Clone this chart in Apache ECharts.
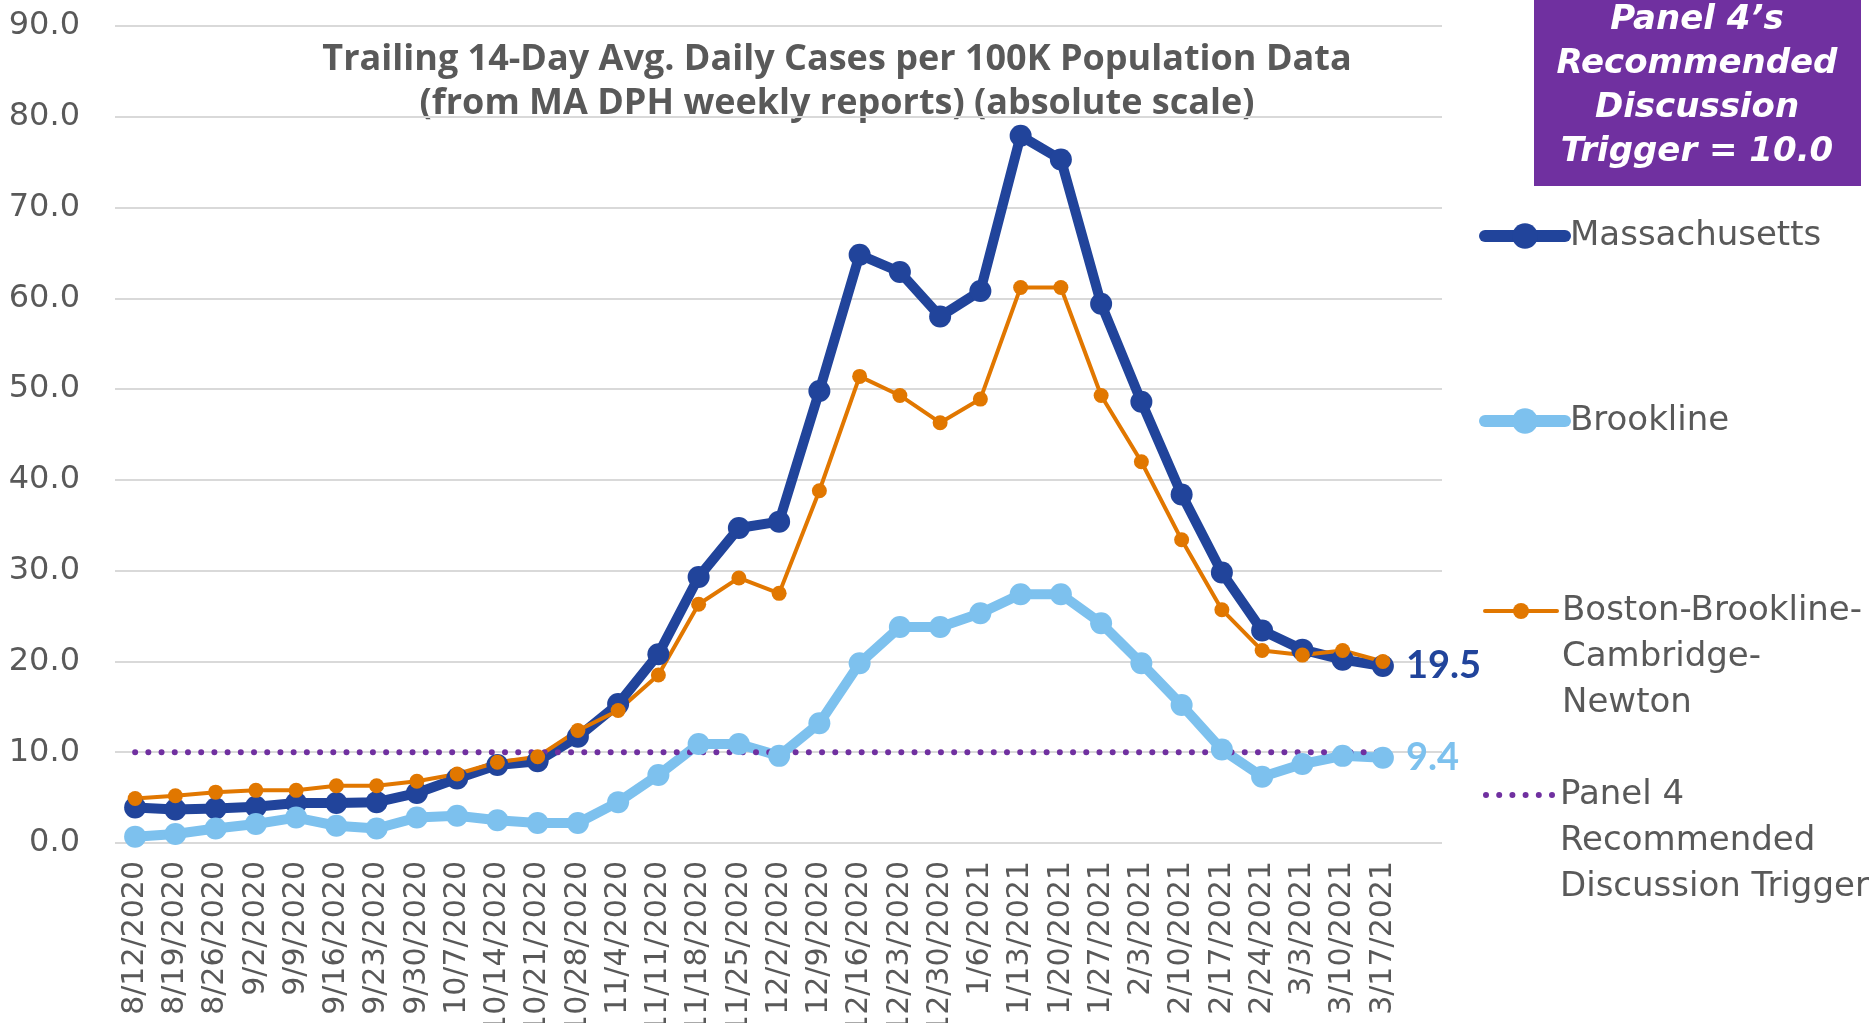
<!DOCTYPE html>
<html>
<head>
<meta charset="utf-8">
<script src="https://cdn.jsdelivr.net/npm/echarts@6/dist/echarts.min.js"></script>
<style>
  html, body { margin: 0; padding: 0; background: #fff; }
  #main { width: 1874px; height: 1023px; }
</style>
</head>
<body>
<div id="main"></div>
<script>
var dates = ['8/12/2020', '8/19/2020', '8/26/2020', '9/2/2020', '9/9/2020', '9/16/2020', '9/23/2020', '9/30/2020',
    '10/7/2020', '10/14/2020', '10/21/2020', '10/28/2020', '11/4/2020', '11/11/2020', '11/18/2020', '11/25/2020',
    '12/2/2020', '12/9/2020', '12/16/2020', '12/23/2020', '12/30/2020', '1/6/2021', '1/13/2021', '1/20/2021',
    '1/27/2021', '2/3/2021', '2/10/2021', '2/17/2021', '2/24/2021', '3/3/2021', '3/10/2021', '3/17/2021'];

var massachusetts = [3.9, 3.7, 3.8, 4.0, 4.4, 4.4, 4.5, 5.5, 7.1, 8.6, 9.0, 11.7, 15.3, 20.8, 29.3, 34.7,
    35.4, 49.8, 64.8, 62.9, 58.0, 60.8, 77.9, 75.3, 59.4, 48.6, 38.4, 29.8, 23.4, 21.3, 20.2, 19.5];
var brookline = [0.7, 1.0, 1.6, 2.1, 2.8, 1.9, 1.6, 2.8, 3.0, 2.5, 2.2, 2.2, 4.5, 7.5, 10.9, 10.9,
    9.6, 13.2, 19.8, 23.8, 23.8, 25.3, 27.4, 27.4, 24.2, 19.8, 15.2, 10.3, 7.3, 8.7, 9.6, 9.4];
var bbcn = [4.9, 5.2, 5.6, 5.8, 5.8, 6.3, 6.3, 6.8, 7.6, 8.9, 9.5, 12.4, 14.6, 18.5, 26.3, 29.2,
    27.5, 38.8, 51.4, 49.3, 46.3, 48.9, 61.2, 61.2, 49.3, 42.0, 33.4, 25.7, 21.2, 20.7, 21.2, 20.0];
var trigger = [10, 10, 10, 10, 10, 10, 10, 10, 10, 10, 10, 10, 10, 10, 10, 10,
    10, 10, 10, 10, 10, 10, 10, 10, 10, 10, 10, 10, 10, 10, 10, 10];

var yTicks = [0, 90, 10];   // min, max, interval

var names = ['Massachusetts', 'Brookline', 'Boston-Brookline-Cambridge-Newton', 'Panel 4 Recommended Discussion Trigger'];
// two blank lines in front so the first text line sits level with the icon
var legendText = {
    'Boston-Brookline-Cambridge-Newton': '\n\nBoston-Brookline-\nCambridge-\nNewton',
    'Panel 4 Recommended Discussion Trigger': '\n\nPanel 4\nRecommended\nDiscussion Trigger'
};

var GRAY = '#595959';
var MA_BLUE = '#21449B';
var LIGHT_BLUE = '#7DC1EE';
var ORANGE = '#E17700';
var PURPLE = '#7030A0';

var myChart = echarts.init(document.getElementById('main'));

// centerY: where the icon should sit; offset: half the height of the item's text block
function legendItem(name, centerY, offset, left, w, h, lineWidth) {
    return {
        data: [name],
        left: left,
        top: centerY - offset,
        itemWidth: w,
        itemHeight: h,
        orient: 'vertical',
        padding: 0,
        selectedMode: false,
        lineStyle: { width: lineWidth, cap: 'round' },
        formatter: function (n) { return legendText[n] || n; },
        textStyle: {
            color: GRAY,
            fontSize: 34,
            fontFamily: 'DejaVu Sans',
            lineHeight: 46
        }
    };
}

var dotsIcon = 'path://M0,3a3,3 0 1,0 6,0a3,3 0 1,0 -6,0z' +
    'M13.2,3a3,3 0 1,0 6,0a3,3 0 1,0 -6,0z' +
    'M26.4,3a3,3 0 1,0 6,0a3,3 0 1,0 -6,0z' +
    'M39.6,3a3,3 0 1,0 6,0a3,3 0 1,0 -6,0z' +
    'M52.8,3a3,3 0 1,0 6,0a3,3 0 1,0 -6,0z' +
    'M66,3a3,3 0 1,0 6,0a3,3 0 1,0 -6,0z';

var triggerLegend = legendItem(names[3], 792, 112, 1483, 72, 6, 0);
triggerLegend.data = [{ name: names[3], icon: dotsIcon }];

option = {
    backgroundColor: '#fff',
    animation: false,
    grid: [
        { left: 115, right: 432, top: 26, bottom: 180, outerBoundsMode: 'none' },
        { left: 115, right: 471, top: 26, bottom: 180, outerBoundsMode: 'none' }
    ],
    xAxis: [
        { gridIndex: 0, type: 'value', show: false, min: 0, max: 1 },
        {
            gridIndex: 1,
            type: 'category',
            data: dates,
            boundaryGap: true,
            axisLine: { show: false },
            axisTick: { show: false },
            axisLabel: {
                interval: 0,
                rotate: 90,
                margin: 18,
                color: GRAY,
                fontSize: 30,
                fontFamily: 'DejaVu Sans'
            }
        }
    ],
    yAxis: [
        {
            gridIndex: 0,
            type: 'value',
            min: yTicks[0],
            max: yTicks[1],
            interval: yTicks[2],
            axisLine: { show: false },
            axisTick: { show: false },
            axisLabel: {
                margin: 35,
                color: GRAY,
                fontSize: 32,
                fontFamily: 'DejaVu Sans',
                formatter: function (v) { return v.toFixed(1); }
            },
            splitLine: { lineStyle: { color: '#D9D9D9', width: 2 } }
        },
        {
            gridIndex: 1,
            type: 'value',
            min: yTicks[0],
            max: yTicks[1],
            interval: yTicks[2],
            show: false,
            splitLine: { show: false }
        }
    ],
    legend: [
        legendItem(names[0], 236, 23, 1479, 80, 32, 12),
        legendItem(names[1], 421, 23, 1479, 80, 32, 12),
        legendItem(names[2], 608, 112, 1483, 72, 20, 4),
        triggerLegend
    ],
    series: [
        {
            name: names[0],
            type: 'line',
            xAxisIndex: 1,
            yAxisIndex: 1,
            data: massachusetts,
            symbol: 'circle',
            symbolSize: 22,
            lineStyle: { color: MA_BLUE, width: 10 },
            itemStyle: { color: MA_BLUE },
            endLabel: {
                show: true,
                distance: 23,
                formatter: function (p) { return p.value.toFixed(1); },
                color: MA_BLUE,
                fontSize: 38,
                fontWeight: 'bold',
                fontFamily: 'Lato'
            }
        },
        {
            name: names[1],
            type: 'line',
            xAxisIndex: 1,
            yAxisIndex: 1,
            data: brookline,
            symbol: 'circle',
            symbolSize: 22,
            lineStyle: { color: LIGHT_BLUE, width: 10 },
            itemStyle: { color: LIGHT_BLUE },
            endLabel: {
                show: true,
                distance: 23,
                formatter: function (p) { return p.value.toFixed(1); },
                color: LIGHT_BLUE,
                fontSize: 38,
                fontWeight: 'bold',
                fontFamily: 'Lato'
            }
        },
        {
            name: names[2],
            type: 'line',
            xAxisIndex: 1,
            yAxisIndex: 1,
            data: bbcn,
            symbol: 'circle',
            symbolSize: 15,
            lineStyle: { color: ORANGE, width: 4 },
            itemStyle: { color: ORANGE }
        },
        {
            name: names[3],
            type: 'line',
            xAxisIndex: 1,
            yAxisIndex: 1,
            data: trigger,
            symbol: 'none',
            lineStyle: { color: PURPLE, width: 6, type: [0.01, 13.2], cap: 'round' },
            itemStyle: { color: PURPLE }
        }
    ],
    graphic: [
        {
            type: 'text',
            x: 837,
            y: 82,
            style: {
                text: 'Trailing 14-Day Avg. Daily Cases per 100K Population Data\n(from MA DPH weekly reports) (absolute scale)',
                fill: GRAY,
                font: 'bold 36px "Open Sans"',
                lineHeight: 44,
                align: 'center',
                verticalAlign: 'middle'
            }
        },
        {
            type: 'rect',
            shape: { x: 1534, y: 0, width: 327, height: 186 },
            style: { fill: PURPLE }
        },
        {
            type: 'text',
            x: 1697,
            y: 86,
            style: {
                text: 'Panel 4\u2019s\nRecommended\nDiscussion\nTrigger = 10.0',
                fill: '#fff',
                font: 'italic bold 34px "DejaVu Sans"',
                lineHeight: 44,
                align: 'center',
                verticalAlign: 'middle'
            }
        }
    ]
};

myChart.setOption(option);
</script>
</body>
</html>
